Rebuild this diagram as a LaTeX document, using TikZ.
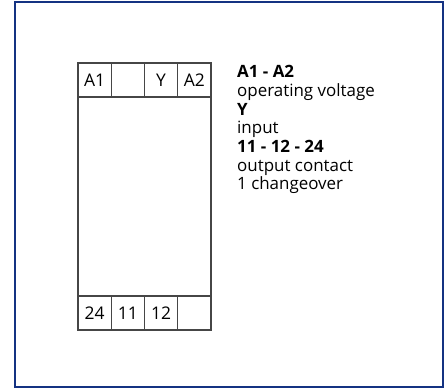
\documentclass[tikz,border=0pt]{standalone}
\usepackage{fontspec}
\setmainfont{Open Sans}
\usepackage{tikz}
\usetikzlibrary{positioning}
\definecolor{framenavy}{RGB}{20,50,130}
\definecolor{linegray}{RGB}{70,70,70}

\begin{document}
\begin{tikzpicture}[x=1bp, y=-1bp,
	cell/.style={draw=linegray, line width=1.3bp, minimum width=33.25bp, minimum height=34bp, inner sep=0pt, outer sep=0pt, font=\fontsize{17.5}{19}\selectfont},
	legend/.style={anchor=north west, align=left, inner sep=0pt, font=\fontsize{17}{18.7}\selectfont}]
	\useasboundingbox (0,0) rectangle (447,388);
	\draw[framenavy, line width=2.5bp] (15,2) rectangle (443,387);

	% terminals on top
	\node[cell, anchor=north west] (a1) at (78,63) {A1};
	\node[cell, right=0pt of a1] (free) {};
	\node[cell, right=0pt of free] (y) {Y};
	\node[cell, right=0pt of y] (a2) {A2};

	% terminals on bottom
	\node[cell, anchor=south west] (t24) at (78,330) {24};
	\node[cell, right=0pt of t24] (t11) {11};
	\node[cell, right=0pt of t11] (t12) {12};
	\node[cell, right=0pt of t12] (spare) {};

	\draw[linegray, line width=1.3bp] (a1.north west) rectangle (spare.south east);

	\node[legend] (key) at (237,65.5) {\textbf{A1 - A2}\\operating voltage\\\textbf{Y}\\input\\\textbf{11 - 12 - 24}\\output contact\\1 changeover};
\end{tikzpicture}
\end{document}
